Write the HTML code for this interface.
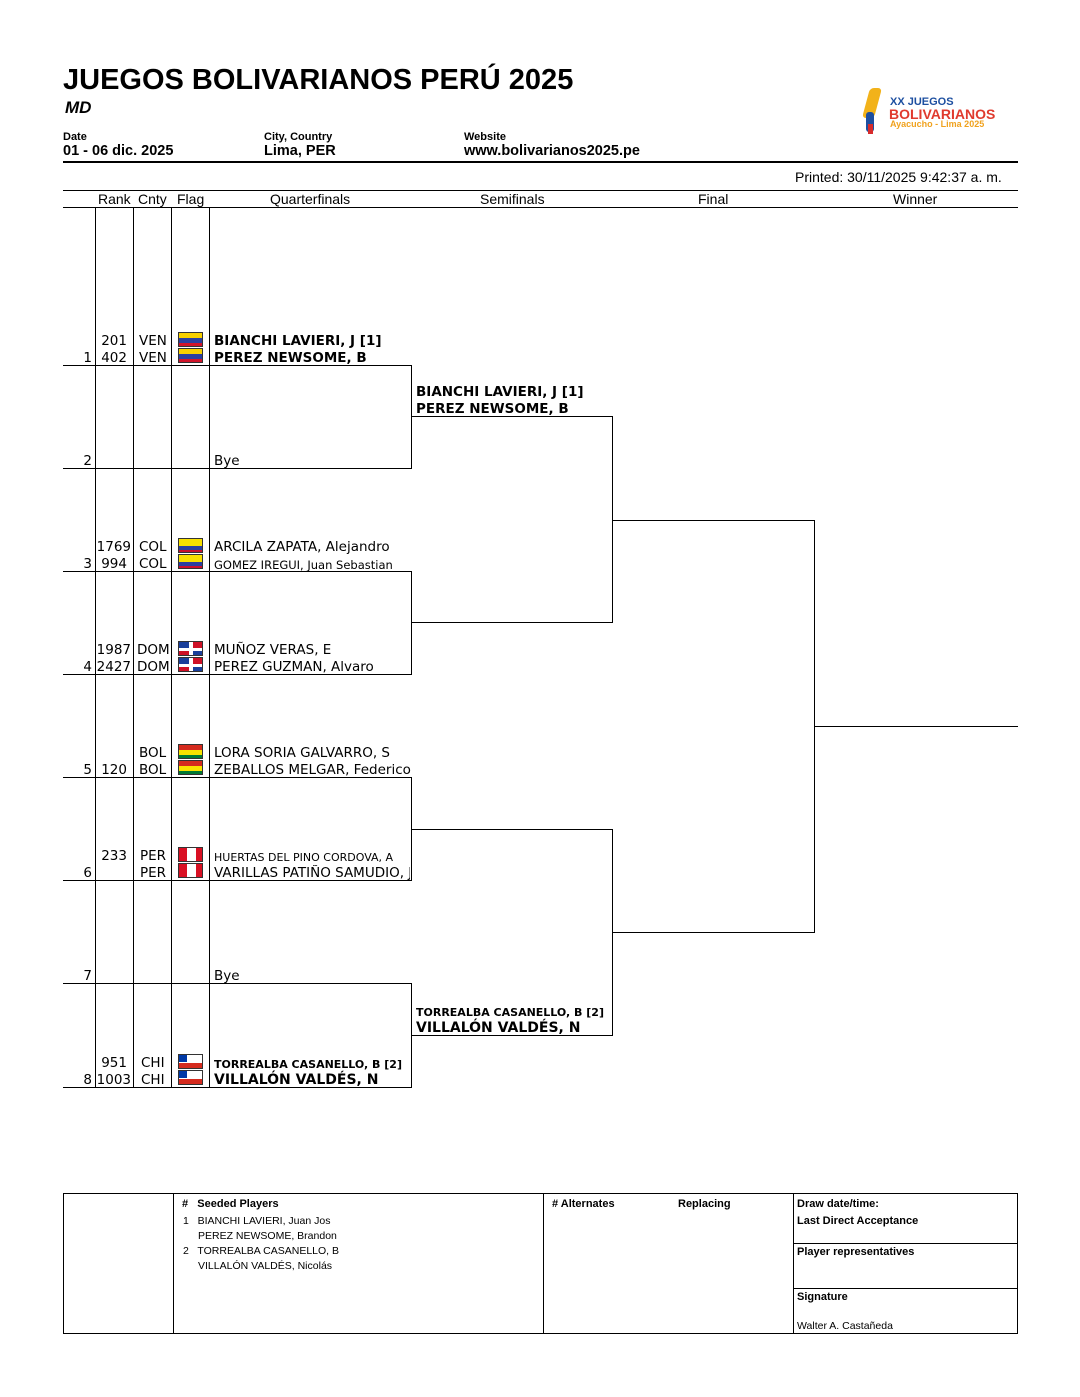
<!DOCTYPE html><html><head><meta charset="utf-8"><style>
body{margin:0;width:1080px;height:1397px;background:#fff;position:relative;font-family:"DejaVu Sans","Liberation Sans",sans-serif;color:#000;overflow:hidden}
div{position:absolute}
.h{height:1px;background:#000}.v{width:1px;background:#000}
.t{font-size:13.5px;line-height:17px;white-space:nowrap}
.b{font-weight:bold}
.n{text-align:right}
.f{width:25px;height:15px;border:1px solid #333;box-sizing:border-box;overflow:hidden}
.f div{position:absolute;left:0;width:100%}
.sm{font-size:11px;font-family:"Liberation Sans",sans-serif}
</style></head><body>
<div class="b" style="left:63px;top:64px;font-size:29px;font-family:'Liberation Sans',sans-serif">JUEGOS BOLIVARIANOS PERÚ 2025</div>
<div class="b" style="left:65px;top:98px;font-size:17px;font-style:italic;font-family:'Liberation Sans',sans-serif">MD</div>
<div class="b sm" style="left:63px;top:131px">Date</div>
<div class="b" style="left:63px;top:143px;font-size:14.5px;font-family:'Liberation Sans',sans-serif">01 - 06 dic. 2025</div>
<div class="b sm" style="left:264px;top:131px">City, Country</div>
<div class="b" style="left:264px;top:143px;font-size:14.5px;font-family:'Liberation Sans',sans-serif">Lima, PER</div>
<div class="b sm" style="left:464px;top:131px">Website</div>
<div class="b" style="left:464px;top:143px;font-size:14.5px;font-family:'Liberation Sans',sans-serif">www.bolivarianos2025.pe</div>
<!-- logo -->
<div style="left:866px;top:88px;width:12px;height:30px;background:#f2b21a;transform:skewX(-15deg);border-radius:4px"></div>
<div style="left:866px;top:112px;width:8px;height:20px;background:#1d4fa0;border-radius:3px"></div>
<div style="left:868px;top:124px;width:5px;height:10px;background:#d72b2b"></div>
<div class="b" style="left:890px;top:96px;font-size:11px;color:#1d4fa0;font-family:'Liberation Sans',sans-serif">XX JUEGOS</div>
<div class="b" style="left:889px;top:106px;font-size:14px;color:#e03a2e;font-family:'Liberation Sans',sans-serif">BOLIVARIANOS</div>
<div class="b" style="left:890px;top:119px;font-size:9px;color:#f0a21e;font-family:'Liberation Sans',sans-serif">Ayacucho - Lima 2025</div>
<div class="h" style="left:63px;top:161px;width:955px;height:2px"></div>
<div style="left:795px;top:169px;font-size:14px;font-family:'Liberation Sans',sans-serif">Printed: 30/11/2025 9:42:37 a. m.</div>
<div class="h" style="left:63px;top:190px;width:955px"></div>
<div class="h" style="left:63px;top:207px;width:955px"></div>
<div class="t" style="left:98px;top:191px;font-family:'Liberation Sans',sans-serif;font-size:14px">Rank</div>
<div class="t" style="left:138px;top:191px;font-family:'Liberation Sans',sans-serif;font-size:14px">Cnty</div>
<div class="t" style="left:177px;top:191px;font-family:'Liberation Sans',sans-serif;font-size:14px">Flag</div>
<div class="t" style="left:270px;top:191px;font-family:'Liberation Sans',sans-serif;font-size:14px">Quarterfinals</div>
<div class="t" style="left:480px;top:191px;font-family:'Liberation Sans',sans-serif;font-size:14px">Semifinals</div>
<div class="t" style="left:698px;top:191px;font-family:'Liberation Sans',sans-serif;font-size:14px">Final</div>
<div class="t" style="left:893px;top:191px;font-family:'Liberation Sans',sans-serif;font-size:14px">Winner</div>
<div class="v" style="left:95px;top:207px;height:880px"></div>
<div class="v" style="left:133px;top:207px;height:880px"></div>
<div class="v" style="left:171px;top:207px;height:880px"></div>
<div class="v" style="left:209px;top:207px;height:880px"></div>
<!-- row lines -->
<div class="h" style="left:63px;top:365px;width:348px"></div>
<div class="h" style="left:63px;top:468px;width:348px"></div>
<div class="h" style="left:63px;top:571px;width:348px"></div>
<div class="h" style="left:63px;top:674px;width:348px"></div>
<div class="h" style="left:63px;top:777px;width:348px"></div>
<div class="h" style="left:63px;top:880px;width:348px"></div>
<div class="h" style="left:63px;top:983px;width:348px"></div>
<div class="h" style="left:63px;top:1087px;width:348px"></div>
<div class="v" style="left:411px;top:365px;height:104px"></div>
<div class="v" style="left:411px;top:571px;height:104px"></div>
<div class="v" style="left:411px;top:777px;height:104px"></div>
<div class="v" style="left:411px;top:983px;height:105px"></div>
<div class="h" style="left:411px;top:416px;width:202px"></div>
<div class="h" style="left:411px;top:622px;width:202px"></div>
<div class="h" style="left:411px;top:829px;width:202px"></div>
<div class="h" style="left:411px;top:1035px;width:202px"></div>
<div class="v" style="left:612px;top:416px;height:207px"></div>
<div class="v" style="left:612px;top:829px;height:207px"></div>
<div class="h" style="left:612px;top:520px;width:203px"></div>
<div class="h" style="left:612px;top:932px;width:203px"></div>
<div class="v" style="left:814px;top:520px;height:413px"></div>
<div class="h" style="left:814px;top:726px;width:204px"></div>
<!-- row numbers -->
<div class="t n" style="left:63px;width:29px;top:350px">1</div>
<div class="t n" style="left:63px;width:29px;top:453px">2</div>
<div class="t n" style="left:63px;width:29px;top:556px">3</div>
<div class="t n" style="left:63px;width:29px;top:659px">4</div>
<div class="t n" style="left:63px;width:29px;top:762px">5</div>
<div class="t n" style="left:63px;width:29px;top:865px">6</div>
<div class="t n" style="left:63px;width:29px;top:968px">7</div>
<div class="t n" style="left:63px;width:29px;top:1072px">8</div>
<!-- ranks -->
<div class="t n" style="left:95px;width:32px;top:333px">201</div><div class="t n" style="left:95px;width:32px;top:350px">402</div>
<div class="t n" style="left:95px;width:36px;top:539px">1769</div><div class="t n" style="left:95px;width:32px;top:556px">994</div>
<div class="t n" style="left:95px;width:36px;top:642px">1987</div><div class="t n" style="left:95px;width:36px;top:659px">2427</div>
<div class="t n" style="left:95px;width:32px;top:762px">120</div>
<div class="t n" style="left:95px;width:32px;top:848px">233</div>
<div class="t n" style="left:95px;width:32px;top:1055px">951</div><div class="t n" style="left:95px;width:36px;top:1072px">1003</div>
<!-- countries -->
<div class="t" style="left:139px;top:333px">VEN</div><div class="t" style="left:139px;top:350px">VEN</div>
<div class="t" style="left:139px;top:539px">COL</div><div class="t" style="left:139px;top:556px">COL</div>
<div class="t" style="left:137px;top:642px">DOM</div><div class="t" style="left:137px;top:659px">DOM</div>
<div class="t" style="left:139px;top:745px">BOL</div><div class="t" style="left:139px;top:762px">BOL</div>
<div class="t" style="left:140px;top:848px">PER</div><div class="t" style="left:140px;top:865px">PER</div>
<div class="t" style="left:141px;top:1055px">CHI</div><div class="t" style="left:141px;top:1072px">CHI</div>
<!-- flags -->
<div class="f" style="left:178px;top:332px"><div style="top:0;height:5px;background:#f7d000"></div><div style="top:5px;height:5px;background:#2a3fa0"></div><div style="top:10px;height:5px;background:#d0142a"></div></div>
<div class="f" style="left:178px;top:348px"><div style="top:0;height:5px;background:#f7d000"></div><div style="top:5px;height:5px;background:#2a3fa0"></div><div style="top:10px;height:5px;background:#d0142a"></div></div>
<div class="f" style="left:178px;top:538px"><div style="top:0;height:7px;background:#f7e000"></div><div style="top:7px;height:4px;background:#2a3fa0"></div><div style="top:11px;height:4px;background:#c8102e"></div></div>
<div class="f" style="left:178px;top:554px"><div style="top:0;height:7px;background:#f7e000"></div><div style="top:7px;height:4px;background:#2a3fa0"></div><div style="top:11px;height:4px;background:#c8102e"></div></div>
<div class="f" style="left:178px;top:641px;background:#fff"><div style="top:0;height:6px;width:10px;background:#1a3f9a"></div><div style="top:0;left:14px;height:6px;width:11px;background:#ce1126"></div><div style="top:9px;height:6px;width:10px;background:#ce1126"></div><div style="top:9px;left:14px;height:6px;width:11px;background:#1a3f9a"></div></div>
<div class="f" style="left:178px;top:657px;background:#fff"><div style="top:0;height:6px;width:10px;background:#1a3f9a"></div><div style="top:0;left:14px;height:6px;width:11px;background:#ce1126"></div><div style="top:9px;height:6px;width:10px;background:#ce1126"></div><div style="top:9px;left:14px;height:6px;width:11px;background:#1a3f9a"></div></div>
<div class="f" style="left:178px;top:744px"><div style="top:0;height:5px;background:#d52b1e"></div><div style="top:5px;height:5px;background:#f9e300"></div><div style="top:10px;height:5px;background:#007934"></div></div>
<div class="f" style="left:178px;top:760px"><div style="top:0;height:5px;background:#d52b1e"></div><div style="top:5px;height:5px;background:#f9e300"></div><div style="top:10px;height:5px;background:#007934"></div></div>
<div class="f" style="left:178px;top:847px;background:#fff"><div style="top:0;height:15px;width:8px;background:#d91023"></div><div style="top:0;left:17px;height:15px;width:8px;background:#d91023"></div></div>
<div class="f" style="left:178px;top:863px;background:#fff"><div style="top:0;height:15px;width:8px;background:#d91023"></div><div style="top:0;left:17px;height:15px;width:8px;background:#d91023"></div></div>
<div class="f" style="left:178px;top:1054px;background:#fff"><div style="top:0;height:7px;width:8px;background:#0039a6"></div><div style="top:8px;height:7px;background:#d52b1e"></div></div>
<div class="f" style="left:178px;top:1070px;background:#fff"><div style="top:0;height:7px;width:8px;background:#0039a6"></div><div style="top:8px;height:7px;background:#d52b1e"></div></div>
<!-- names -->
<div class="t b" style="left:214px;top:333px">BIANCHI LAVIERI, J [1]</div>
<div class="t b" style="left:214px;top:350px">PEREZ NEWSOME, B</div>
<div class="t" style="left:214px;top:453px">Bye</div>
<div class="t" style="left:214px;top:539px">ARCILA ZAPATA, Alejandro</div>
<div class="t" style="left:214px;top:557px;font-size:11.5px">GOMEZ IREGUI, Juan Sebastian</div>
<div class="t" style="left:214px;top:642px">MUÑOZ VERAS, E</div>
<div class="t" style="left:214px;top:659px">PEREZ GUZMAN, Alvaro</div>
<div class="t" style="left:214px;top:745px">LORA SORIA GALVARRO, S</div>
<div class="t" style="left:214px;top:762px">ZEBALLOS MELGAR, Federico</div>
<div class="t" style="left:214px;top:849px;font-size:11px">HUERTAS DEL PINO CORDOVA, A</div>
<div class="t" style="left:214px;top:865px;width:196px;overflow:hidden">VARILLAS PATIÑO SAMUDIO, J</div>
<div class="t" style="left:214px;top:968px">Bye</div>
<div class="t b" style="left:214px;top:1056px;font-size:11px">TORREALBA CASANELLO, B [2]</div>
<div class="t b" style="left:214px;top:1072px;font-size:14px">VILLALÓN VALDÉS, N</div>
<div class="t b" style="left:416px;top:384px">BIANCHI LAVIERI, J [1]</div>
<div class="t b" style="left:416px;top:401px">PEREZ NEWSOME, B</div>
<div class="t b" style="left:416px;top:1004px;font-size:11px">TORREALBA CASANELLO, B [2]</div>
<div class="t b" style="left:416px;top:1020px;font-size:14px">VILLALÓN VALDÉS, N</div>
<!-- footer -->
<div style="left:63px;top:1193px;width:953px;height:139px;border:1px solid #000"></div>
<div class="v" style="left:173px;top:1193px;height:140px"></div>
<div class="v" style="left:543px;top:1193px;height:140px"></div>
<div class="v" style="left:793px;top:1193px;height:140px"></div>
<div class="h" style="left:793px;top:1243px;width:224px"></div>
<div class="h" style="left:793px;top:1288px;width:224px"></div>
<div class="sm b" style="left:182px;top:1198px">#&nbsp;&nbsp; Seeded Players</div>
<div class="sm" style="left:183px;top:1215px;font-size:10.5px">1&nbsp;&nbsp; BIANCHI LAVIERI, Juan Jos</div>
<div class="sm" style="left:198px;top:1230px;font-size:10.5px">PEREZ NEWSOME, Brandon</div>
<div class="sm" style="left:183px;top:1245px;font-size:10.5px">2&nbsp;&nbsp; TORREALBA CASANELLO, B</div>
<div class="sm" style="left:198px;top:1260px;font-size:10.5px">VILLALÓN VALDÉS, Nicolás</div>
<div class="sm b" style="left:552px;top:1198px"># Alternates</div>
<div class="sm b" style="left:678px;top:1198px">Replacing</div>
<div class="sm b" style="left:797px;top:1198px">Draw date/time:</div>
<div class="sm b" style="left:797px;top:1215px">Last Direct Acceptance</div>
<div class="sm b" style="left:797px;top:1246px">Player representatives</div>
<div class="sm b" style="left:797px;top:1291px">Signature</div>
<div class="sm" style="left:797px;top:1320px;font-size:10.5px">Walter A. Castañeda</div>
</body></html>
